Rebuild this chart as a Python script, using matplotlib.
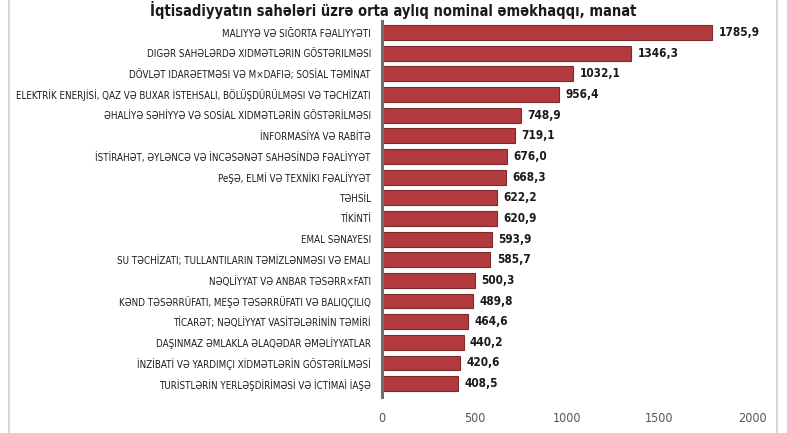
import matplotlib.pyplot as plt
from matplotlib.patches import Rectangle

sectors = [
    "MALIYYƏ VƏ SIĞORTA FƏALIYYƏTI",
    "DIGƏR SAHƏLƏRDƏ XIDMƏTLƏRIN GÖSTƏRILMƏSI",
    "DÖVLƏT IDARƏETMƏSI VƏ M×DAFIƏ; SOSİAL TƏMİNAT",
    "ELEKTRİK ENERJİSİ, QAZ VƏ BUXAR İSTEHSALI, BÖLÜŞDÜRÜLMƏSI VƏ TƏCHİZATI",
    "ƏHALİYƏ SƏHİYYƏ VƏ SOSİAL XIDMƏTLƏRİN GÖSTƏRİLMƏSI",
    "İNFORMASİYA VƏ RABİTƏ",
    "İSTİRAHƏT, ƏYLƏNCƏ VƏ İNCƏSƏNƏT SAHƏSİNDƏ FƏALİYYƏT",
    "PeŞƏ, ELMİ VƏ TEXNİKI FƏALİYYƏT",
    "TƏHSİL",
    "TİKİNTİ",
    "EMAL SƏNAYESI",
    "SU TƏCHİZATI; TULLANTILARIN TƏMİZLƏNMƏSI VƏ EMALI",
    "NƏQLİYYAT VƏ ANBAR TƏSƏRR×FATI",
    "KƏND TƏSƏRRÜFATI, MEŞƏ TƏSƏRRÜFATI VƏ BALIQÇILIQ",
    "TİCARƏT; NƏQLİYYAT VASİTƏLƏRİNİN TƏMİRİ",
    "DAŞINMAZ ƏMLAKLA ƏLAQƏDAR ƏMƏLİYYATLAR",
    "İNZİBATİ VƏ YARDIMÇI XİDMƏTLƏRİN GÖSTƏRİLMƏSİ",
    "TURİSTLƏRİN YERLƏŞDİRİMƏSİ VƏ İCTİMAİ İAŞƏ",
]
salary = [1785.9, 1346.3, 1032.1, 956.4, 748.9, 719.1, 676.0, 668.3, 622.2,
          620.9, 593.9, 585.7, 500.3, 489.8, 464.6, 440.2, 420.6, 408.5]
ticks = [0, 500, 1000, 1500, 2000]

font = dict(family="DejaVu Sans", stretch="condensed")

fig = plt.figure(figsize=(7.87, 4.33), dpi=100)
fig.patches.append(Rectangle((0.011, -0.1), 0.976, 1.2, transform=fig.transFigure,
                             fill=False, edgecolor="#d0d0d0", lw=1.2))
ax = fig.add_axes([0.4855, 0.083, 0.47, 0.868])

y = list(range(len(sectors)))
ax.barh(y, salary, height=0.72, color="#b23a3e", edgecolor="#7d2a2d", lw=0.8)
ax.set_ylim(len(sectors) - 0.35, -0.55)
ax.set_xlim(0, 2000)

# value labels
for i, v in enumerate(salary):
    ax.text(v + 35, i, f"{v:.1f}".replace(".", ","), va="center", ha="left",
            fontsize=8.5, fontweight="bold", color="#1a1a1a", **font)

ax.set_yticks(y)
ax.set_yticklabels(sectors, fontsize=7.0, color="#1a1a1a", **font)
ax.set_xticks(ticks)
ax.set_xticklabels([str(t) for t in ticks], fontsize=9, color="#555555", **font)
ax.tick_params(axis="y", length=0, pad=8)
ax.tick_params(axis="x", length=0, pad=11)

for s in ["top", "right", "bottom"]:
    ax.spines[s].set_visible(False)
ax.spines["left"].set_color("#6e6e6e")
ax.spines["left"].set_linewidth(2.2)

fig.text(0.5, 0.998, "İqtisadiyyatın sahələri üzrə orta aylıq nominal əməkhaqqı, manat",
         ha="center", va="top", fontsize=10.5, fontweight="bold", color="#1a1a1a",
         **font)

fig.savefig("out.png", dpi=100)
